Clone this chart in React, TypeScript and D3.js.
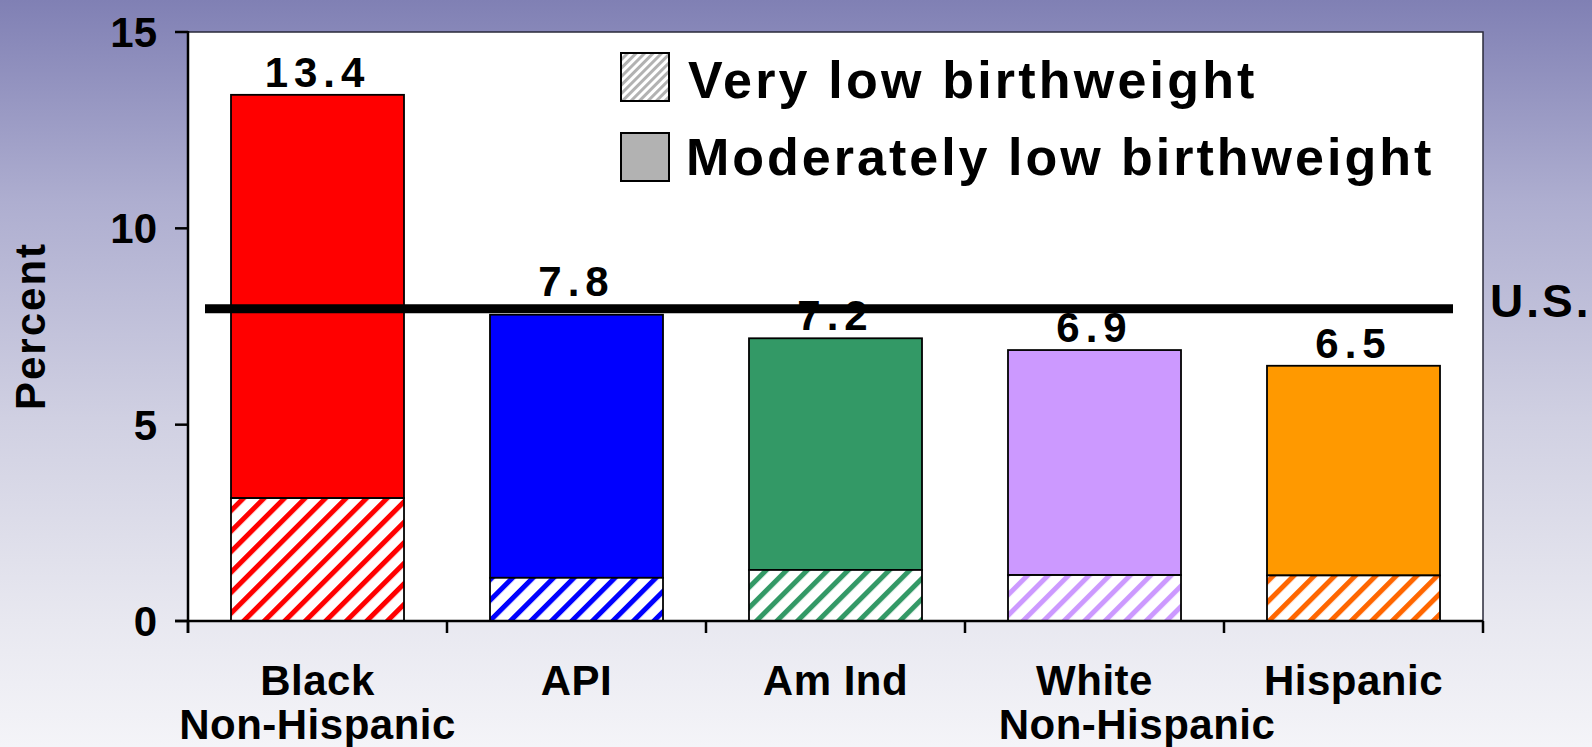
import React from "react";
import * as d3 from "d3";

const categories = ["Black", "API", "Am Ind", "White", "Hispanic"];
const categoryLines = [["Black", "Non-Hispanic"], ["API"], ["Am Ind"], ["White", "\u2003\u2003Non-Hispanic"], ["Hispanic"]];
const totalValues = [13.4, 7.8, 7.2, 6.9, 6.5];
const veryLowValues = [3.13, 1.1, 1.3, 1.17, 1.16];
const valueLabels = ["13.4", "7.8", "7.2", "6.9", "6.5"];
const topColors = ["#ff0000", "#0000ff", "#339966", "#cc99ff", "#ff9900"];
const hatchColors = ["#ff0000", "#0000ff", "#339966", "#cc99ff", "#ff6600"];
const yTicks = [0, 5, 10, 15];
const usValue = 7.95;
const legendLabels = ["Very low birthweight", "Moderately low birthweight"];

const W = 1592;
const H = 747;
const FONT = "'Liberation Sans', Arial, sans-serif";

export default function App() {
  const x = d3.scaleBand<string>().domain(categories).range([188, 1483]).paddingInner(0.332).paddingOuter(0.166);
  const y = d3.scaleLinear().domain([0, 15]).range([621, 32]);
  const step = x.step();
  const boundaries = d3.range(categories.length + 1).map((i) => 188 + i * step);
  const usY = y(usValue);
  const usHalf = 4.5;

  const labelY = (v: number) => {
    const base = y(v) - 8;
    // keep a label that would sit on the U.S. line just above it
    if (base > usY - usHalf && base < usY + usHalf) return usY - usHalf - 8;
    return base;
  };

  return (
    <svg width={W} height={H} style={{ position: "absolute", left: 0, top: 0, display: "block" }} fontFamily={FONT} fontWeight="bold">
      <defs>
        <linearGradient id="bg" x1="0" y1="0" x2="0" y2="1">
          <stop offset="0%" stopColor="#8080b4" />
          <stop offset="27%" stopColor="#aeaed0" />
          <stop offset="56%" stopColor="#d0d0e2" />
          <stop offset="83%" stopColor="#e8e8f0" />
          <stop offset="100%" stopColor="#f4f4f8" />
        </linearGradient>
        {hatchColors.map((c, i) => (
          <pattern key={i} id={`hatch${i}`} patternUnits="userSpaceOnUse" width={14.5} height={14.5} patternTransform="rotate(45)">
            <rect x={0} y={0} width={14.5} height={14.5} fill="#ffffff" />
            <rect x={0} y={0} width={5} height={14.5} fill={c} />
          </pattern>
        ))}
        <pattern id="hatchLegend" patternUnits="userSpaceOnUse" width={6} height={6} patternTransform="rotate(45)">
          <rect x={0} y={0} width={6} height={6} fill="#ffffff" />
          <rect x={0} y={0} width={3} height={6} fill="#b2b2b2" />
        </pattern>
      </defs>
      <rect x={0} y={0} width={W} height={H} fill="url(#bg)" />
      {/* plot area */}
      <rect x={188} y={y(15)} width={1483 - 188} height={y(0) - y(15)} fill="#ffffff" stroke="#2a2a3a" strokeWidth={1.5} />

      {/* bars */}
      {categories.map((c, i) => {
        const bx = x(c)!;
        const bw = x.bandwidth();
        return (
          <g key={c}>
            <rect x={bx} y={y(totalValues[i])} width={bw} height={y(veryLowValues[i]) - y(totalValues[i])} fill={topColors[i]} stroke="#000" strokeWidth={1.8} />
            <rect x={bx} y={y(veryLowValues[i])} width={bw} height={y(0) - y(veryLowValues[i])} fill={`url(#hatch${i})`} stroke="#000" strokeWidth={1.8} />
          </g>
        );
      })}

      {/* US line */}
      <line x1={188 + 17} x2={1483 - 30} y1={usY} y2={usY} stroke="#000" strokeWidth={usHalf * 2} />
      <text x={1490} y={317} fontSize={46} letterSpacing={3} fill="#000">U.S.</text>

      {/* value labels */}
      {categories.map((c, i) => (
        <text key={c} x={x(c)! + x.bandwidth() / 2} y={labelY(totalValues[i])} textAnchor="middle" fontSize={42} letterSpacing={6} fill="#000">
          {valueLabels[i]}
        </text>
      ))}

      {/* axes */}
      <line x1={188} x2={188} y1={y(15) - 1} y2={y(0) + 12} stroke="#000" strokeWidth={2.5} />
      <line x1={175} x2={1483} y1={y(0)} y2={y(0)} stroke="#000" strokeWidth={2.5} />
      {yTicks.map((t) => (
        <g key={t}>
          <line x1={175} x2={188} y1={y(t)} y2={y(t)} stroke="#000" strokeWidth={2.5} />
          <text x={157} y={y(t)} dy="0.36em" textAnchor="end" fontSize={42} fill="#000">{t}</text>
        </g>
      ))}
      {boundaries.map((b, i) => (
        <line key={i} x1={b} x2={b} y1={y(0)} y2={y(0) + 12} stroke="#000" strokeWidth={2.5} />
      ))}
      {categories.map((c, i) => (
        <text key={c} textAnchor="middle" fontSize={42} letterSpacing={0.5} fill="#000">
          {categoryLines[i].map((line, j) => (
            <tspan key={j} x={x(c)! + x.bandwidth() / 2} y={695 + j * 44}>{line}</tspan>
          ))}
        </text>
      ))}

      {/* y label */}
      <text transform="translate(45,326) rotate(-90)" textAnchor="middle" fontSize={42} letterSpacing={2} fill="#000">Percent</text>

      {/* legend */}
      <rect x={621} y={53} width={48} height={48} fill="url(#hatchLegend)" stroke="#000" strokeWidth={2} />
      <rect x={621} y={133} width={48} height={48} fill="#b2b2b2" stroke="#000" strokeWidth={2} />
      <text x={688} y={98} fontSize={52} letterSpacing={3.2} fill="#000">{legendLabels[0]}</text>
      <text x={686} y={175} fontSize={52} letterSpacing={3.0} fill="#000">{legendLabels[1]}</text>
    </svg>
  );
}
